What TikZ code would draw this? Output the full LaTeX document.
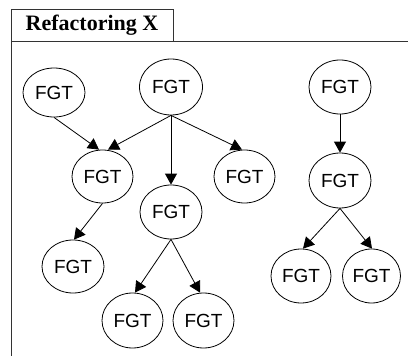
\documentclass[tikz,border=0pt]{standalone}
\usepackage{fontspec}
\setmainfont{Liberation Serif}
\setsansfont{Liberation Sans}
\usetikzlibrary{arrows.meta,shapes.geometric}

\tikzset{
  fgt/.style={ellipse, draw=black, line width=0.8pt, inner sep=0pt,
    minimum width=62pt, minimum height=54pt,
    font=\sffamily\fontsize{19}{19}\selectfont},
  arr/.style={draw=black, line width=0.8pt,
    -{Triangle[length=11pt,width=12pt]}},
  frameline/.style={draw=black!80, line width=0.9pt}
}

\begin{document}
\begin{tikzpicture}[x=1pt,y=-1pt]
  \useasboundingbox (0,0) rectangle (408,356);

  % frame with title tab
  \draw[frameline] (11,356) -- (11,9.5) -- (173,9.5) -- (173,41);
  \draw[frameline] (11,41) -- (408,41);
  \node[font=\bfseries\fontsize{22}{22}\selectfont, inner sep=0pt]
    (title) at (92,25.5) {Refactoring X};

  % left tree
  \node[fgt, minimum height=49pt] (a) at (54,92.5) {FGT};
  \node[fgt, minimum width=63pt, minimum height=56pt] (b) at (171,87) {FGT};
  \node[fgt, minimum width=61pt, minimum height=53pt] (c) at (102.5,176.5) {FGT};
  \node[fgt] (d) at (171,212) {FGT};
  \node[fgt, minimum width=61pt, minimum height=53pt] (e) at (244.5,176.5) {FGT};
  \node[fgt, minimum height=53pt] (f) at (73,266.5) {FGT};
  \node[fgt, minimum width=61pt, minimum height=55pt] (g) at (132.5,320.5) {FGT};
  \node[fgt, minimum width=61pt, minimum height=55pt] (h) at (203.5,320.5) {FGT};

  % right tree
  \node[fgt] (r1) at (340,87) {FGT};
  \node[fgt, minimum height=55pt] (r2) at (340,180.5) {FGT};
  \node[fgt, minimum width=60pt] (r3) at (301,276) {FGT};
  \node[fgt, minimum width=58pt] (r4) at (371.5,276) {FGT};

  % connectors
  \draw[arr] (a.south) -- ([xshift=-3.5pt]c.north);
  \draw[arr] (b.south) -- ([xshift=5.5pt]c.north);
  \draw[arr] (b.south) -- (d.north);
  \draw[arr] (b.south) -- ([xshift=-2.5pt]e.north);
  \draw[arr] (c.south) -- ([xshift=1pt]f.north);
  \draw[arr] (d.south) -- ([xshift=2.5pt]g.north);
  \draw[arr] (d.south) -- ([xshift=-3.5pt]h.north);
  \draw[arr] (r1.south) -- (r2.north);
  \draw[arr] (r2.south) -- ([xshift=2pt]r3.north);
  \draw[arr] (r2.south) -- ([xshift=0.5pt]r4.north);
\end{tikzpicture}
\end{document}
